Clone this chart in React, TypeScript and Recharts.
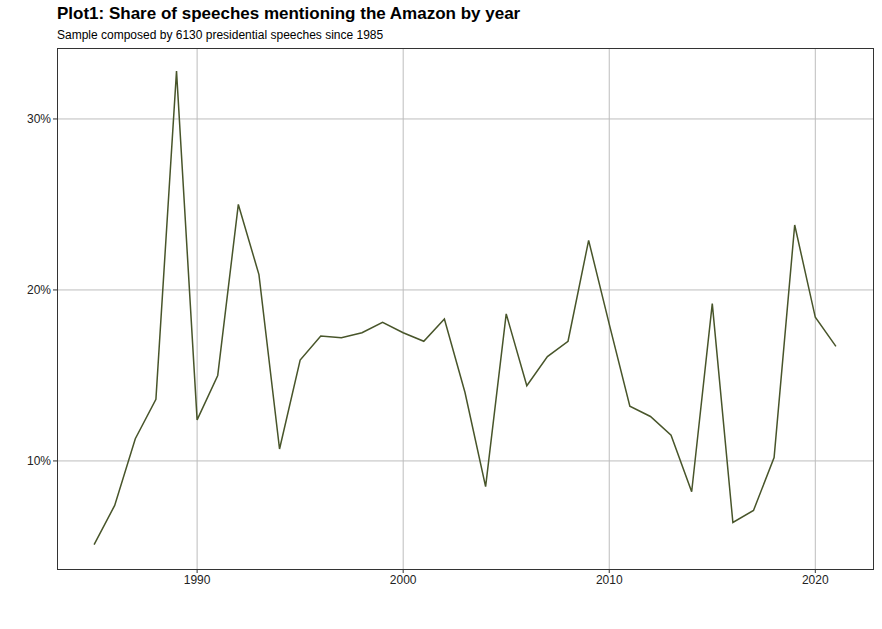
import React from "react";
import { LineChart, Line, XAxis, YAxis, CartesianGrid } from "recharts";

const years = [1985,1986,1987,1988,1989,1990,1991,1992,1993,1994,1995,1996,1997,1998,1999,2000,2001,2002,2003,2004,2005,2006,2007,2008,2009,2010,2011,2012,2013,2014,2015,2016,2017,2018,2019,2020,2021];
const shares = [5.1,7.4,11.3,13.6,32.8,12.4,15.0,25.0,20.9,10.7,15.9,17.3,17.2,17.5,18.1,17.5,17.0,18.3,14.0,8.5,18.6,14.4,16.1,17.0,22.9,18.0,13.2,12.6,11.5,8.2,19.2,6.4,7.1,10.2,23.8,18.4,16.7];
const xTicks = [1990, 2000, 2010, 2020];
const yTicks = [10, 20, 30];

const data = years.map((y, i) => ({ year: y, share: shares[i] }));

export default function App() {
  return (
    <div style={{ position: "absolute", left: 0, top: 0, width: 882, height: 629, background: "#fff", fontFamily: "Liberation Sans, Arial, sans-serif" }}>
      <div style={{ position: "absolute", left: 57, top: 4, fontSize: 17, fontWeight: "bold", color: "#000" }}>
        Plot1: Share of speeches mentioning the Amazon by year
      </div>
      <div style={{ position: "absolute", left: 57, top: 28, fontSize: 12, color: "#000" }}>
        Sample composed by 6130 presidential speeches since 1985
      </div>
      <LineChart width={882} height={629} data={data} margin={{ top: 48, right: 9, bottom: 30, left: 0 }}>
        <CartesianGrid stroke="#bdbdbd" strokeWidth={1} verticalValues={xTicks} horizontalValues={yTicks} />
        <XAxis dataKey="year" type="number" domain={[1983.2, 2022.8]} ticks={xTicks} height={30}
          tick={{ fill: "#222", fontSize: 12 }} tickLine={{ stroke: "#333" }} axisLine={false} tickSize={4} />
        <YAxis type="number" domain={[3.68, 34.15]} ticks={yTicks} width={57} tickFormatter={(v: number) => `${v}%`}
          tick={{ fill: "#222", fontSize: 12 }} tickLine={{ stroke: "#333" }} axisLine={false} tickSize={4} />
        <Line type="linear" dataKey="share" stroke="#48552a" strokeWidth={1.5} dot={false} isAnimationActive={false} />
      </LineChart>
      <div style={{ position: "absolute", left: 57, top: 48, width: 815, height: 520, border: "1px solid #333", pointerEvents: "none" }} />
    </div>
  );
}
